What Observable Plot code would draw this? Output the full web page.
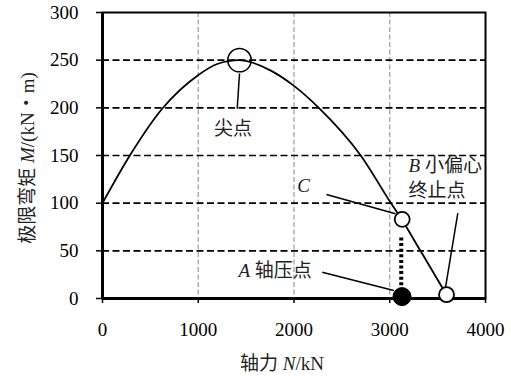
<!DOCTYPE html>
<html>
<head>
<meta charset="utf-8">
<script src="https://cdn.jsdelivr.net/npm/d3@7"></script>
<script src="https://cdn.jsdelivr.net/npm/@observablehq/plot@0.6"></script>
<style>
  html, body { margin: 0; padding: 0; background: #fff; }
  svg text { white-space: pre; }
</style>
</head>
<body>
<div id="chart"></div>
<script>
// Interaction curve: axial force N (kN) vs ultimate moment M (kN·m)
const curveN = [0, 292, 623, 995, 1198, 1431, 1758, 2000, 2259, 2697, 3000, 3130, 3321, 3593];
const curveM = [100, 151, 199, 234, 246, 250, 239, 223, 200, 150, 102, 82, 50, 4];

// key points: 尖点 (peak), C, B (小偏心终止点), A (轴压点)
const pointNames = ["尖点", "C", "B", "A"];
const pointN = [1431, 3130, 3593, 3128];
const pointM = [250, 83, 4, 2];

// dotted link between A and C
const dottedN = [3120, 3120];
const dottedM = [64, 11];

// annotation leader lines
const leaderN1 = [1431, 2339, 3711, 2295];
const leaderM1 = [236, 109, 89.5, 27.6];
const leaderN2 = [1407, 3060, 3580, 3042];
const leaderM2 = [199, 89, 10, 8.4];

// annotation labels
const labelText = ["尖点", "C", "B 小偏心", "终止点", "A 轴压点"];
const labelN = [1363, 2033, 3196, 3196, 1420];
const labelM = [178, 118.5, 139.5, 113, 28.6];

// axes
const xTicks = [0, 1000, 2000, 3000, 4000];
const yTicks = [0, 50, 100, 150, 200, 250, 300];
const xGrid = [1000, 2000, 3000];
const yGrid = [50, 100, 150, 200, 250];
const xTitle = "轴力 N/kN";
const yTitle = "极限弯矩 M/(kN・m)";

const curve = curveN.map((n, i) => ({N: n, M: curveM[i]}));
const points = pointNames.map((name, i) => ({name, N: pointN[i], M: pointM[i]}));
const dotted = dottedN.map((n, i) => ({N: n, M: dottedM[i]}));
const leaders = leaderN1.map((n, i) => ({x1: n, y1: leaderM1[i], x2: leaderN2[i], y2: leaderM2[i]}));
const labels = labelText.map((t, i) => ({t, N: labelN[i], M: labelM[i]}));

const font = "'Liberation Serif', 'Noto Sans CJK SC', serif";

const chart = Plot.plot({
  width: 511,
  height: 376,
  marginLeft: 102,
  marginRight: 26,
  marginTop: 12,
  marginBottom: 78,
  x: {domain: [0, 4000]},
  y: {domain: [0, 300]},
  style: {fontFamily: font, fontSize: "19px", background: "#fff", color: "#000", overflow: "visible"},
  marks: [
    Plot.ruleX(xGrid, {stroke: "#a3a3a3", strokeWidth: 1.3, strokeDasharray: "5,2.5"}),
    Plot.ruleY(yGrid, {stroke: "#000", strokeWidth: 1.6, strokeDasharray: "7,3.5"}),
    Plot.frame({stroke: "#000", strokeWidth: 2}),
    Plot.axisY(yTicks, {tickSize: 6, tickPadding: 18, strokeWidth: 1.5, tickFormat: d => String(d), fontSize: 19, label: null}),
    Plot.axisX(xTicks, {tickSize: 5, tickPadding: 18.5, strokeWidth: 1.5, tickFormat: d => String(d), fontSize: 19, label: null}),
    Plot.ruleX([0], {stroke: "#000", strokeWidth: 3}),
    Plot.ruleY([0], {stroke: "#000", strokeWidth: 3}),
    Plot.line(curve, {x: "N", y: "M", stroke: "#000", strokeWidth: 1.8, curve: "monotone-x"}),
    Plot.line(dotted, {x: "N", y: "M", stroke: "#000", strokeWidth: 4, strokeDasharray: "3,2.6", strokeLinecap: "butt"}),
    Plot.link(leaders, {x1: "x1", y1: "y1", x2: "x2", y2: "y2", stroke: "#000", strokeWidth: 1.5}),
    Plot.dot(points.filter(d => d.name === "尖点"), {x: "N", y: "M", r: 11.7, fill: "#fff", fillOpacity: 0, stroke: "#000", strokeWidth: 1.5}),
    Plot.dot(points.filter(d => d.name === "C" || d.name === "B"), {x: "N", y: "M", r: 7.5, fill: "#fff", stroke: "#000", strokeWidth: 1.8}),
    Plot.dot(points.filter(d => d.name === "A"), {x: "N", y: "M", r: 9, fill: "#000", stroke: "#000", strokeWidth: 1}),
    Plot.text(labels.slice(0, 1), {x: "N", y: "M", text: "t", textAnchor: "middle", lineAnchor: "middle", fontSize: 19, fill: "#222"}),
    Plot.text(labels.slice(1), {x: "N", y: "M", text: "t", textAnchor: "start", lineAnchor: "middle", fontSize: 19, fill: "#222"}),
    Plot.text([xTitle], {frameAnchor: "bottom", textAnchor: "middle", dy: 65, dx: -12, lineAnchor: "middle", fontSize: 19, fill: "#222"}),
    Plot.text([yTitle], {frameAnchor: "left", textAnchor: "middle", dx: -75, dy: 2.5, rotate: -90, lineAnchor: "middle", fontSize: 19, fill: "#222"})
  ]
});

// italicize single-letter variables (A, B, C, M, N)
const NS = "http://www.w3.org/2000/svg";
chart.querySelectorAll("text").forEach(t => {
  if (t.children.length) return;
  const s = t.textContent;
  const re = /(^|\s)([A-Z])(?=[\/\s]|$)/g;
  if (!re.test(s)) return;
  re.lastIndex = 0;
  t.textContent = "";
  let last = 0, m;
  const add = (str, italic) => {
    const ts = document.createElementNS(NS, "tspan");
    ts.textContent = str;
    if (italic) ts.setAttribute("font-style", "italic");
    t.appendChild(ts);
  };
  while ((m = re.exec(s))) {
    const start = m.index + m[1].length;
    if (start > last) add(s.slice(last, start), false);
    add(m[2], true);
    last = start + 1;
  }
  if (last < s.length) add(s.slice(last), false);
});

document.getElementById("chart").appendChild(chart);
</script>
</body>
</html>
